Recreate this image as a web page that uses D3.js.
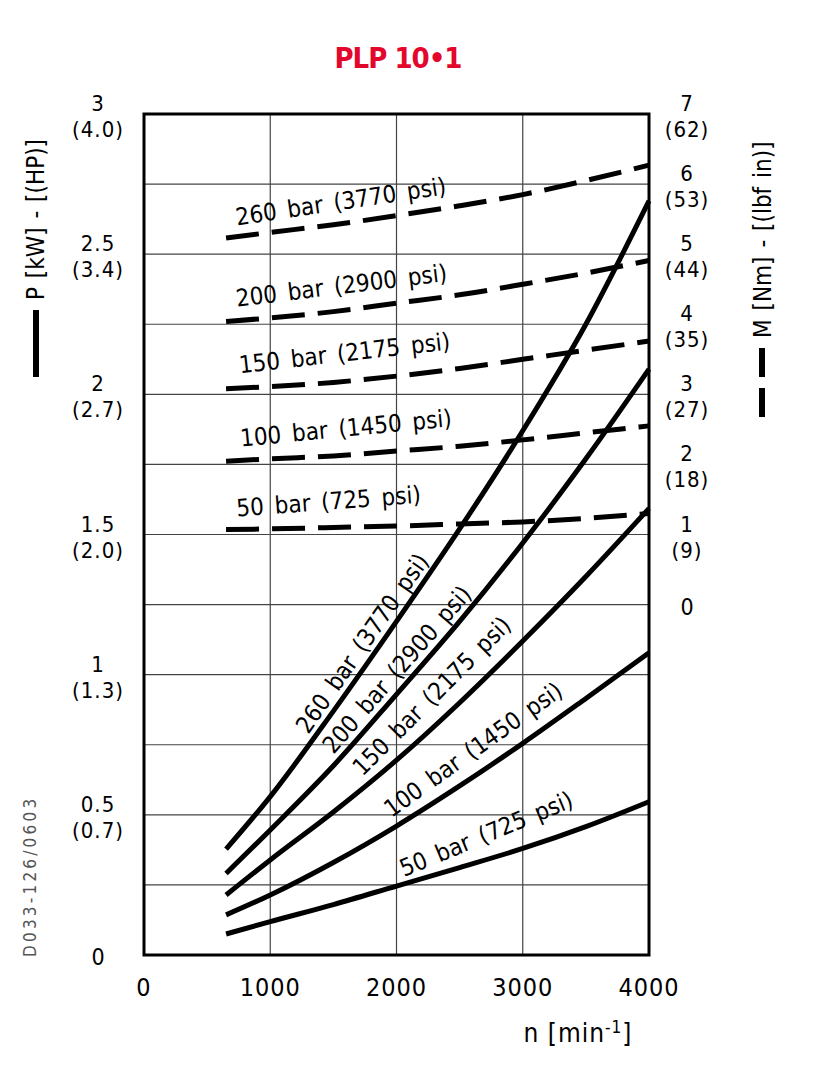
<!DOCTYPE html>
<html>
<head>
    <meta charset="utf-8">
    <script src="https://d3js.org/d3.v7.min.js"></script>
    <title>PLP 10.1</title>
    <style>
      body { margin: 0; background: white; }
      text { font-family: "DejaVu Sans Condensed", "Liberation Sans Narrow", sans-serif; fill: black; }
    </style>
</head>
<body>
    <svg id="chart" width="819" height="1080"></svg>

    <script>
    const speeds = [650, 1000, 1500, 2000, 2500, 3000, 3500, 4000];
    const curveNames = ["260 bar (3770 psi)", "200 bar (2900 psi)", "150 bar (2175 psi)", "100 bar (1450 psi)", "50 bar (725 psi)"];

    // power P [kW] (solid)
    const power260 = [0.378, 0.565, 0.87, 1.19, 1.52, 1.87, 2.25, 2.69];
    const power200 = [0.291, 0.446, 0.675, 0.93, 1.19, 1.47, 1.77, 2.09];
    const power150 = [0.214, 0.339, 0.51, 0.695, 0.90, 1.12, 1.35, 1.593];
    const power100 = [0.143, 0.214, 0.33, 0.46, 0.603, 0.755, 0.915, 1.078];
    const power50 = [0.075, 0.119, 0.18, 0.246, 0.312, 0.38, 0.458, 0.547];

    // torque M [Nm] (dashed)
    const torque260 = [5.23, 5.31, 5.42, 5.55, 5.69, 5.85, 6.05, 6.27];
    const torque200 = [4.04, 4.09, 4.18, 4.30, 4.42, 4.57, 4.73, 4.91];
    const torque150 = [3.08, 3.11, 3.17, 3.26, 3.37, 3.50, 3.63, 3.76];
    const torque100 = [2.045, 2.08, 2.12, 2.19, 2.26, 2.35, 2.45, 2.55];
    const torque50 = [1.07, 1.08, 1.10, 1.12, 1.15, 1.18, 1.23, 1.30];

    // tick labels
    const nTicks = [0, 1000, 2000, 3000, 4000];
    const pTicks = [0, 0.5, 1, 1.5, 2, 2.5, 3];
    const hpTicks = ["", "(0.7)", "(1.3)", "(2.0)", "(2.7)", "(3.4)", "(4.0)"];
    const mTicks = [0, 1, 2, 3, 4, 5, 6, 7];
    const lbfTicks = ["", "(9)", "(18)", "(27)", "(35)", "(44)", "(53)", "(62)"];

    const powerSeries = [power260, power200, power150, power100, power50];
    const torqueSeries = [torque260, torque200, torque150, torque100, torque50];

    // label placement: [n, value, angle]
    const solidLabelAt = [[1300, 0.785, -55], [1500, 0.713, -49], [1730, 0.635, -45], [1960, 0.489, -35.5], [2060, 0.278, -22.5]];
    const dashLabelAt = [[737, 5.41, -8.5], [737, 4.25, -7], [760, 3.30, -6.5], [768, 2.255, -5.5], [737, 1.256, -4.3]];

    const svg = d3.select("svg#chart");
    const plot = {"left": 144, "right": 649, "top": 114, "bottom": 955};

    const xScale = d3.scaleLinear().domain([0, 4000]).range([plot.left, plot.right]);
    const pScale = d3.scaleLinear().domain([0, 3]).range([plot.bottom, plot.top]);
    const mScale = d3.scaleLinear().domain([0, 7]).range([pScale(1.25), plot.top]);

    // title
    svg.append("text")
       .attr("x", 398)
       .attr("y", 68)
       .attr("text-anchor", "middle")
       .attr("font-size", 29)
       .attr("font-weight", "bold")
       .attr("letter-spacing", -1)
       .style("fill", "#e3062d")
       .text("PLP 10\u20221");

    // grid
    let grid = svg.append("g").attr("id", "grid");
    d3.range(0.25, 3, 0.25).forEach( (p) => {
        grid.append("line")
            .attr("x1", plot.left).attr("x2", plot.right)
            .attr("y1", pScale(p)).attr("y2", pScale(p))
            .attr("stroke", "#444").attr("stroke-width", 1.2);
    });
    nTicks.slice(1, -1).forEach( (n) => {
        grid.append("line")
            .attr("x1", xScale(n)).attr("x2", xScale(n))
            .attr("y1", plot.top).attr("y2", plot.bottom)
            .attr("stroke", "#444").attr("stroke-width", 1.2);
    });

    // frame
    svg.append("rect")
       .attr("x", plot.left).attr("y", plot.top)
       .attr("width", plot.right - plot.left)
       .attr("height", plot.bottom - plot.top)
       .attr("fill", "none")
       .attr("stroke", "black")
       .attr("stroke-width", 3);

    // curves
    let curves = svg.append("g").attr("id", "curves");
    const powerLine = d3.line()
                        .x((d, i) => xScale(speeds[i]))
                        .y(d => pScale(d))
                        .curve(d3.curveMonotoneX);
    const torqueLine = d3.line()
                         .x((d, i) => xScale(speeds[i]))
                         .y(d => mScale(d))
                         .curve(d3.curveMonotoneX);

    torqueSeries.forEach( (s) => {
        curves.append("path")
              .attr("d", torqueLine(s))
              .attr("fill", "none")
              .attr("stroke", "black")
              .attr("stroke-width", 5)
              .attr("stroke-dasharray", "33,13");
    });
    powerSeries.forEach( (s) => {
        curves.append("path")
              .attr("d", powerLine(s))
              .attr("fill", "none")
              .attr("stroke", "black")
              .attr("stroke-width", 5);
    });

    // curve labels
    let labels = svg.append("g").attr("id", "labels");
    curveNames.forEach( (name, i) => {
        let s = solidLabelAt[i];
        labels.append("text")
              .attr("transform", `translate(${xScale(s[0])},${pScale(s[1])}) rotate(${s[2]})`)
              .attr("font-size", 24)
              .attr("word-spacing", 4)
              .text(name);
        let d = dashLabelAt[i];
        labels.append("text")
              .attr("transform", `translate(${xScale(d[0])},${mScale(d[1])}) rotate(${d[2]})`)
              .attr("font-size", 24)
              .attr("word-spacing", 4)
              .text(name);
    });

    // x axis labels
    nTicks.forEach( (n) => {
        svg.append("text")
           .attr("x", xScale(n))
           .attr("y", 996)
           .attr("text-anchor", "middle")
           .attr("font-size", 25)
           .attr("letter-spacing", 1)
           .text(n);
    });
    let nTitle = svg.append("text")
                    .attr("x", 578)
                    .attr("y", 1042)
                    .attr("text-anchor", "middle")
                    .attr("font-size", 26)
                    .attr("letter-spacing", 1);
    nTitle.append("tspan").text("n  [min");
    nTitle.append("tspan").attr("dy", -9).attr("font-size", 17).text("-1");
    nTitle.append("tspan").attr("dy", 9).text("]");

    // two-line tick label: value over bracketed imperial value
    const tickLabel = function(x, y, top, bottom) {
        if (bottom === "") {
            svg.append("text")
               .attr("x", x).attr("y", y + 10)
               .attr("text-anchor", "middle")
               .attr("font-size", 23)
               .text(top);
        } else {
            svg.append("text")
               .attr("x", x).attr("y", y - 3)
               .attr("text-anchor", "middle")
               .attr("font-size", 22)
               .attr("letter-spacing", 1)
               .text(top);
            svg.append("text")
               .attr("x", x).attr("y", y + 23)
               .attr("text-anchor", "middle")
               .attr("font-size", 22)
               .attr("letter-spacing", 1)
               .text(bottom);
        }
    };

    pTicks.forEach( (p, i) => tickLabel(98, pScale(p), p, hpTicks[i]) );
    mTicks.forEach( (m, i) => tickLabel(687, mScale(m), m, lbfTicks[i]) );

    // left axis title with solid legend bar
    svg.append("line")
       .attr("x1", 36).attr("x2", 36)
       .attr("y1", 310).attr("y2", 377)
       .attr("stroke", "black").attr("stroke-width", 6);
    svg.append("text")
       .attr("transform", "translate(44,300) rotate(-90)")
       .attr("font-size", 24)
       .attr("word-spacing", 2)
       .text("P [kW] - [(HP)]");

    // right axis title with dashed legend bar
    svg.append("line")
       .attr("x1", 762).attr("x2", 762)
       .attr("y1", 348).attr("y2", 417)
       .attr("stroke", "black").attr("stroke-width", 6)
       .attr("stroke-dasharray", "29,11");
    svg.append("text")
       .attr("transform", "translate(771,338) rotate(-90)")
       .attr("font-size", 24)
       .attr("word-spacing", 2)
       .text("M [Nm] - [(lbf in)]");

    // drawing number
    svg.append("text")
       .attr("transform", "translate(36,957) rotate(-90)")
       .attr("font-size", 17)
       .attr("letter-spacing", 3.2)
       .style("fill", "#555")
       .text("D033-126/0603");
    </script>
</body>
</html>
